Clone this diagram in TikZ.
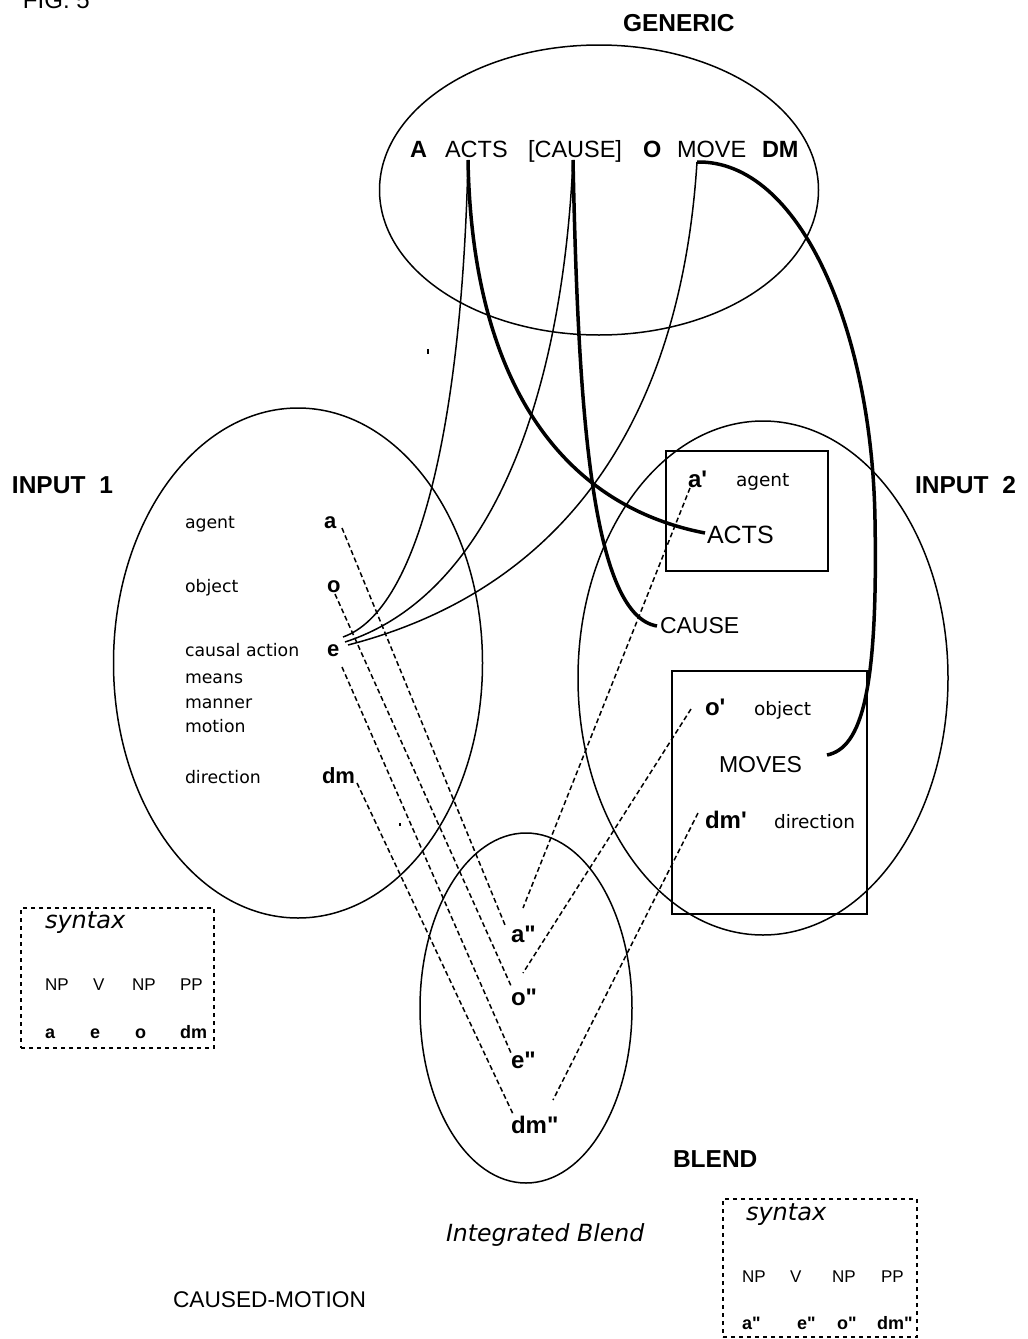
\documentclass[tikz,border=0pt]{standalone}
\usepackage{fontspec}
\usetikzlibrary{shapes.geometric}
\newfontfamily\lib{Liberation Sans}
\newfontfamily\dv{DejaVu Sans}
\begin{document}
\begin{tikzpicture}[x=1pt,y=-1pt,
  every node/.style={inner sep=0pt,outer sep=0pt,anchor=base west},
  reg/.style={font=\lib\fontsize{#1pt}{#1pt}\selectfont},
  bld/.style={font=\lib\bfseries\fontsize{#1pt}{#1pt}\selectfont},
  dvr/.style={font=\dv\fontsize{#1pt}{#1pt}\selectfont},
  dvi/.style={font=\dv\itshape\fontsize{#1pt}{#1pt}\selectfont},
  space/.style={draw,line width=1.5pt,ellipse,anchor=center},
  frame/.style={draw,line width=1.5pt,rectangle,anchor=center},
  synbox/.style={draw,line width=1.2pt,rectangle,anchor=center,dash pattern=on 4pt off 4pt},
  thin/.style={line width=1.5pt},
  thick/.style={line width=3.5pt},
  dsh/.style={line width=1.5pt,dash pattern=on 5pt off 3pt},
]
\useasboundingbox (0,0) rectangle (1028,1339);

% spaces
\node[space,minimum width=439pt,minimum height=290pt] (gen) at (599,190) {};
\node[space,minimum width=369pt,minimum height=510pt] (in1) at (298,663) {};
\node[space,minimum width=370pt,minimum height=514pt] (in2) at (763,678) {};
\node[space,minimum width=212pt,minimum height=350pt] (bl) at (526,1008) {};
\node[frame,minimum width=162pt,minimum height=120pt] (box1) at (747,511) {};
\node[frame,minimum width=195pt,minimum height=243pt] (box2) at (769.5,792.5) {};
\node[synbox,minimum width=193pt,minimum height=140pt] (syn1) at (117.5,978) {};
\node[synbox,minimum width=194pt,minimum height=138pt] (syn2) at (820,1268) {};

% titles
\node[reg=24] (fig) at (23,8) {FIG. 5};
\node[bld=24.5] (generic) at (623,31) {GENERIC};
\node[bld=24.5] (input1) at (12,493) {INPUT\hspace{14pt}1};
\node[bld=24.5] (input2) at (915,493) {INPUT\hspace{14pt}2};
\node[bld=24.5] (blend) at (673,1167) {BLEND};
\node[dvi=23.6] (integ) at (446,1241) {Integrated Blend};
\node[reg=22.7] (cm) at (173,1307) {CAUSED-MOTION};

% generic row
\node[bld=23.5] (gA) at (410,157) {A};
\node[reg=23.5] (gACTS) at (445,157) {ACTS};
\node[reg=23.5] (gCAUSE) at (528,157) {[CAUSE]};
\node[bld=23.5] (gO) at (643,157) {O};
\node[reg=23.5] (gMOVE) at (677,157) {MOVE};
\node[bld=23.5] (gDM) at (762,157) {DM};

% input 1
\node[dvr=17.3] (l1) at (185,528) {agent};
\node[dvr=17.3] (l2) at (185,592) {object};
\node[dvr=17.3] (l3) at (185,656) {causal action};
\node[dvr=17.3] (l4) at (185,683) {means};
\node[dvr=17.3] (l5) at (185,708) {manner};
\node[dvr=17.3] (l6) at (185,732) {motion};
\node[dvr=17.3] (l7) at (185,783) {direction};
\node[bld=22] (a) at (324,528) {a};
\node[bld=22] (o) at (327,592) {o};
\node[bld=22] (e) at (327,656) {e};
\node[bld=22] (dm) at (322,783) {dm};

% input 2
\node[bld=24] (a1) at (688,487) {a'};
\node[dvr=18.5] (r1) at (736,486) {agent};
\node[reg=25] (acts) at (707,543) {ACTS};
\node[reg=23] (cause) at (660,633) {CAUSE};
\node[bld=24] (o1) at (705,715) {o'};
\node[dvr=18.5] (r2) at (754,715) {object};
\node[reg=23] (moves) at (719,772) {MOVES};
\node[bld=24] (dm1) at (705,828) {dm'};
\node[dvr=18.5] (r3) at (774,828) {direction};

% blend
\node[bld=24] (a2) at (511,942) {a"};
\node[bld=24] (o2) at (511,1005) {o"};
\node[bld=24] (e2) at (511,1068) {e"};
\node[bld=24] (dm2) at (511,1133) {dm"};

% syntax boxes
\node[dvi=24] (sx1) at (45,928) {syntax};
\node[reg=17] (s1a) at (45,990) {NP};
\node[reg=17] (s1b) at (93,990) {V};
\node[reg=17] (s1c) at (132,990) {NP};
\node[reg=17] (s1d) at (180,990) {PP};
\node[bld=18] (t1a) at (45,1038) {a};
\node[bld=18] (t1b) at (90,1038) {e};
\node[bld=18] (t1c) at (135,1038) {o};
\node[bld=18] (t1d) at (180,1038) {dm};
\node[dvi=24] (sx2) at (746,1220) {syntax};
\node[reg=17] (s2a) at (742,1282) {NP};
\node[reg=17] (s2b) at (790,1282) {V};
\node[reg=17] (s2c) at (832,1282) {NP};
\node[reg=17] (s2d) at (881,1282) {PP};
\node[bld=18] (t2a) at (742,1329) {a"};
\node[bld=18] (t2b) at (797,1329) {e"};
\node[bld=18] (t2c) at (837,1329) {o"};
\node[bld=18] (t2d) at (877,1329) {dm"};

% connector end points
\coordinate (pACTS) at (468,160);
\coordinate (pCAUSE) at (573,160);
\coordinate (pMOVE) at (697,162);
\coordinate (eA) at (343,637);
\coordinate (eB) at (345,642);
\coordinate (eC) at (348,645);
\coordinate (qACTS) at (705,533);
\coordinate (qCAUSE) at (657,626);
\coordinate (qMOVES) at (827,755);

% thin solid
\draw[thin] (pACTS) .. controls (462,420) and (420,610) .. (eA);
\draw[thin] (pCAUSE) .. controls (562,400) and (490,595) .. (eB);
\draw[thin] (pMOVE) .. controls (682,400) and (580,585) .. (eC);
% thick solid
\draw[thick] (pACTS) .. controls (472,380) and (560,505) .. (qACTS);
\draw[thick] (pCAUSE) .. controls (578,400) and (590,615) .. (qCAUSE);
\draw[thick] (pMOVE) .. controls (800,160) and (872,330) .. (875,520) .. controls (878,690) and (862,748) .. (qMOVES);

% dashed mappings
\coordinate (da) at (342,528);  \coordinate (da2) at (505,925);
\coordinate (do) at (335,594);  \coordinate (do2) at (512,988);
\coordinate (de) at (342,667);  \coordinate (de2) at (511,1053);
\coordinate (ddm) at (357,783); \coordinate (ddm2) at (513,1114);
\coordinate (xa) at (690,488);  \coordinate (xa2) at (523,908);
\coordinate (xo) at (691,709);  \coordinate (xo2) at (523,973);
\coordinate (xdm) at (698,813); \coordinate (xdm2) at (553,1100);
\draw[dsh] (da) -- (da2);
\draw[dsh] (do) -- (do2);
\draw[dsh] (de) -- (de2);
\draw[dsh] (ddm) -- (ddm2);
\draw[dsh] (xa) -- (xa2);
\draw[dsh] (xo) -- (xo2);
\draw[dsh] (xdm) -- (xdm2);

% stray marks
\coordinate (m1) at (428,349);
\coordinate (m2) at (400,823);
\draw[line width=1.5pt] (m1) -- ++(0,5);
\draw[line width=1.2pt] (m2) -- ++(0,3);
\end{tikzpicture}
\end{document}
